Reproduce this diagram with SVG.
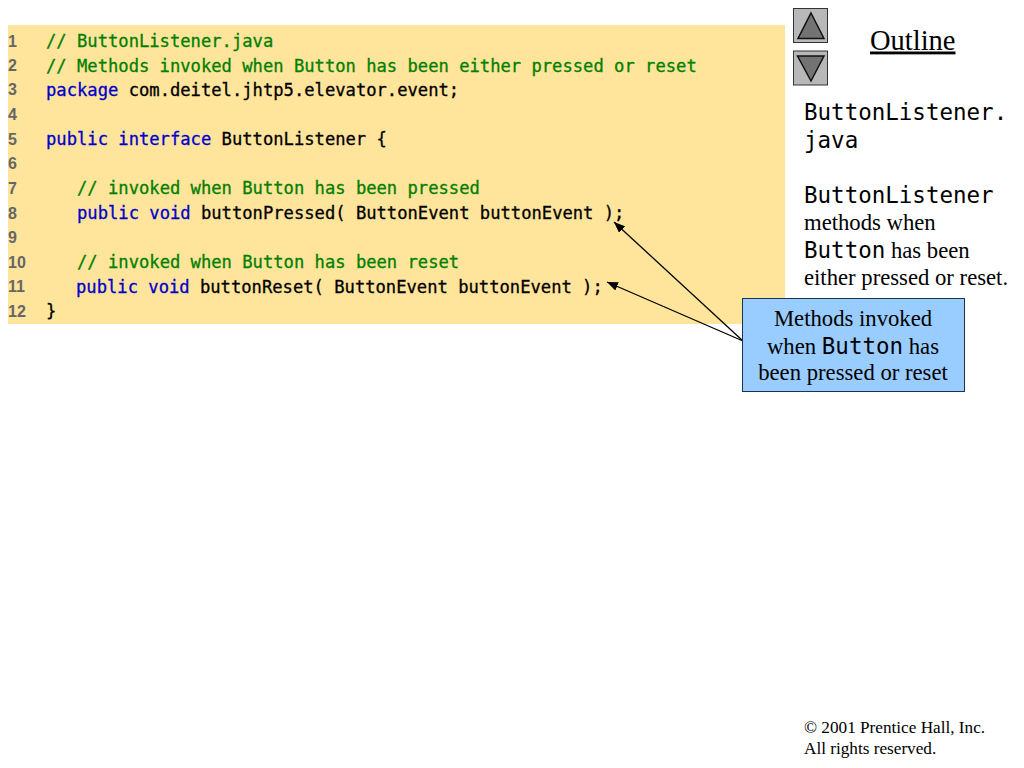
<svg xmlns="http://www.w3.org/2000/svg" width="1024" height="768" viewBox="0 0 1024 768">
<style>
.code{font-family:"DejaVu Sans Mono","Liberation Mono",monospace;font-size:17.17px;white-space:pre;stroke-width:.3px}
.c{fill:#008000;stroke:#008000}.k{fill:#0000cc;stroke:#0000cc}.t{fill:#000;stroke:#000}
.n{font-family:"Liberation Sans",Arial,sans-serif;font-size:16px;font-weight:bold;fill:#666}
.s{font-family:"Liberation Serif","Times New Roman",serif;font-size:22.7px;fill:#000}
.m{font-family:"DejaVu Sans Mono","Liberation Mono",monospace;font-size:22.5px;fill:#000}
.f{font-family:"Liberation Serif","Times New Roman",serif;font-size:17.2px;fill:#000}
.cn{stroke:#000;stroke-width:1.3;fill:none;marker-end:url(#a)}
.btn{fill:#b8b8b8;stroke:#333;stroke-width:1}
.tri{fill:#737373;stroke:#111;stroke-width:1.5}
</style>
<defs><marker id="a" markerUnits="userSpaceOnUse" markerWidth="12" markerHeight="10" refX="11" refY="4.5" orient="auto"><path d="M0 0L11 4.5L0 9z" fill="#000"/></marker></defs>
<rect width="1024" height="768" fill="#fff"/>
<g id="code-panel">
<rect x="8" y="25" width="777" height="299" fill="#ffe49c"/>
<text class="n" x="8" y="47">1</text><text class="n" x="8" y="71">2</text><text class="n" x="8" y="95">3</text><text class="n" x="8" y="120">4</text><text class="n" x="8" y="145">5</text><text class="n" x="8" y="169">6</text><text class="n" x="8" y="194">7</text><text class="n" x="8" y="219">8</text><text class="n" x="8" y="243">9</text><text class="n" x="8" y="268">10</text><text class="n" x="8" y="292">11</text><text class="n" x="8" y="317">12</text>
<text class="code c" x="46" y="47">// ButtonListener.java</text>
<text class="code c" x="46" y="71.500">// Methods invoked when Button has been either pressed or reset</text>
<text class="code" x="46" y="95.500"><tspan class="k">package</tspan><tspan class="t"> com.deitel.jhtp5.elevator.event;</tspan></text>
<text class="code" x="46" y="145"><tspan class="k">public interface</tspan><tspan class="t"> ButtonListener {</tspan></text>
<text class="code c" x="77" y="194">// invoked when Button has been pressed</text>
<text class="code" x="77" y="219"><tspan class="k">public void</tspan><tspan class="t"> buttonPressed( ButtonEvent buttonEvent );</tspan></text>
<text class="code c" x="77" y="268">// invoked when Button has been reset</text>
<text class="code" x="76" y="292.500"><tspan class="k">public void</tspan><tspan class="t"> buttonReset( ButtonEvent buttonEvent );</tspan></text>
<text class="code t" x="46" y="317">}</text>
</g>
<g id="nav-up"><rect class="btn" x="793.500" y="8.500" width="34" height="34"/><path class="tri" d="M811 13L824 38.500H798z"/></g>
<g id="nav-down"><rect class="btn" x="793.500" y="51" width="34" height="34"/><path class="tri" d="M797.500 56H824L811 81z"/></g>
<g id="outline-title"><text x="870" y="49.500" font-family="Liberation Serif,serif" font-size="28.500" fill="#000" text-decoration="underline">Outline</text></g>
<g id="side-notes">
<text class="m" x="804" y="120">ButtonListener.</text>
<text class="m" x="804" y="148">java</text>
<text class="m" x="804" y="202.500">ButtonListener</text>
<text class="s" x="804" y="230">methods when</text>
<text x="804" y="257.500"><tspan class="m">Button</tspan><tspan class="s"> has been</tspan></text>
<text class="s" x="804" y="285">either pressed or reset.</text>
</g>
<g id="connectors">
<line class="cn" x1="743" y1="341" x2="614" y2="222"/>
<line class="cn" x1="743" y1="341" x2="607" y2="282"/>
</g>
<g id="callout">
<rect x="742.500" y="298.500" width="222" height="93" fill="#99ccff" stroke="#1a3350" stroke-width="1"/>
<text class="s" x="853" y="326" text-anchor="middle">Methods invoked</text>
<text x="853" y="353.500" text-anchor="middle"><tspan class="s">when </tspan><tspan class="m">Button</tspan><tspan class="s"> has</tspan></text>
<text class="s" x="853" y="380" text-anchor="middle">been pressed or reset</text>
</g>
<g id="copyright">
<text class="f" x="804" y="733">© 2001 Prentice Hall, Inc.</text>
<text class="f" x="804" y="754">All rights reserved.</text>
</g>
</svg>
